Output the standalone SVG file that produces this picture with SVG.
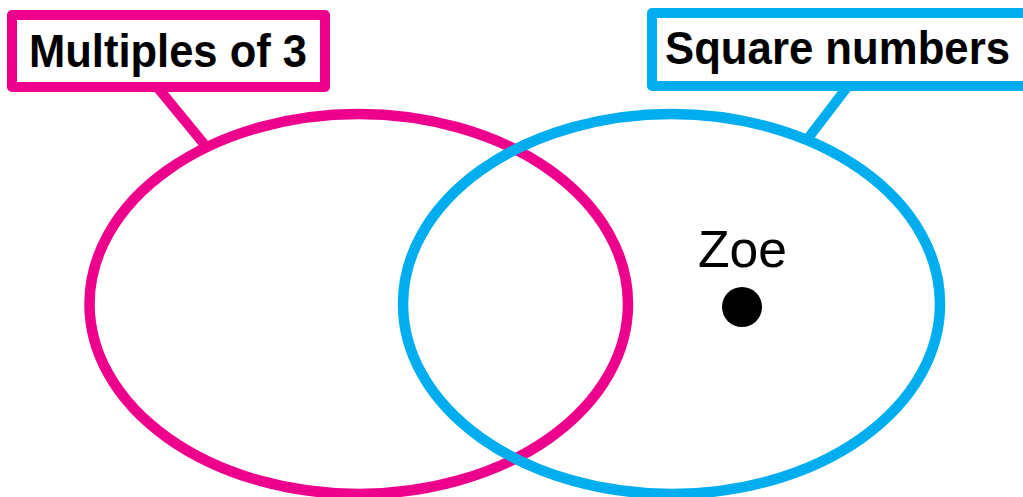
<svg xmlns="http://www.w3.org/2000/svg" width="1023" height="497" viewBox="0 0 1023 497">
  <style>
    .pink { stroke: #EC008C; }
    .blue { stroke: #00AEEF; }
    .set { fill: none; stroke-width: 10.5; }
    .box { fill: #FFFFFF; stroke-width: 10; stroke-linejoin: round; }
    .lead { stroke-width: 10; fill: none; }
    .lbl { font-family: "Liberation Sans", Arial, Helvetica, sans-serif; font-weight: bold; font-size: 46px; fill: #000000; }
    .name { font-family: "Liberation Sans", Arial, Helvetica, sans-serif; font-size: 52px; fill: #000000; }
  </style>
  <rect x="0" y="0" width="1023" height="497" fill="#FFFFFF"/>
  <g id="connectors">
    <line class="lead pink" x1="158" y1="88" x2="204" y2="144"/>
    <line class="lead blue" x1="848" y1="86" x2="809" y2="137"/>
  </g>
  <g id="set-multiples-of-3">
    <ellipse class="set pink" cx="358.75" cy="304" rx="269.25" ry="190"/>
  </g>
  <g id="set-square-numbers">
    <ellipse class="set blue" cx="671.5" cy="304" rx="268.5" ry="190"/>
  </g>
  <g id="label-multiples-of-3">
    <rect class="box pink" x="12" y="15" width="313" height="72"/>
    <text class="lbl" x="29" y="67" textLength="278" lengthAdjust="spacingAndGlyphs">Multiples of 3</text>
  </g>
  <g id="label-square-numbers">
    <rect class="box blue" x="652" y="13" width="400" height="73"/>
    <text class="lbl" x="665" y="64" textLength="345" lengthAdjust="spacingAndGlyphs">Square numbers</text>
  </g>
  <g id="zoe">
    <text class="name" x="698" y="267" textLength="89" lengthAdjust="spacingAndGlyphs">Zoe</text>
    <circle cx="742" cy="307" r="20" fill="#000000"/>
  </g>
</svg>
